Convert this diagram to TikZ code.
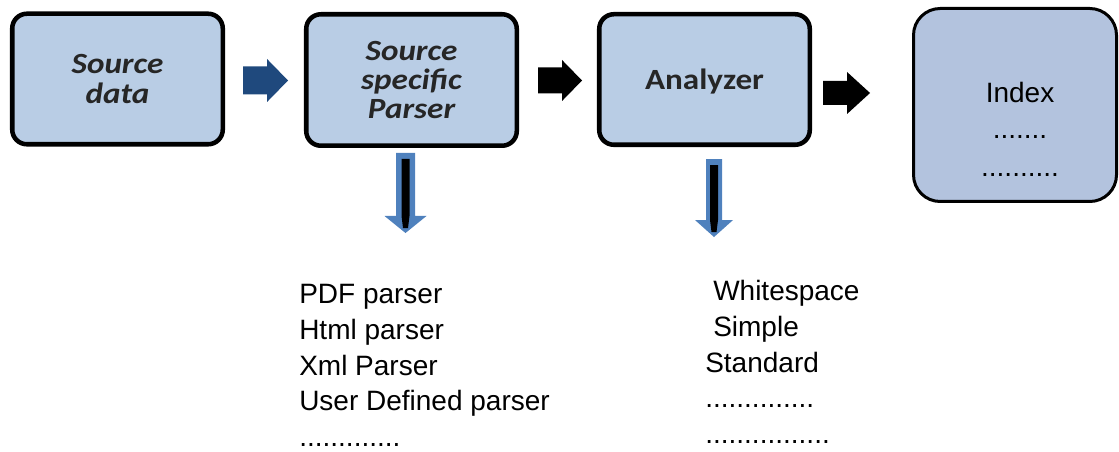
\documentclass[tikz,border=0pt]{standalone}
\usepackage{fontspec}
\usetikzlibrary{calc}
\newfontfamily\boxfont[FakeStretch=1.13]{Carlito}
\newfontfamily\listfont{Liberation Sans}
\definecolor{boxfill}{HTML}{B9CDE5}
\definecolor{idxfill}{HTML}{B3C3DE}
\definecolor{darkblue}{HTML}{1F497D}
\definecolor{midblue}{HTML}{4F81BD}
\definecolor{boxtext}{HTML}{262626}
% right-pointing block arrow: #1 start (centre of tail), #2 length, #3 head length, #4 shaft half, #5 head half, #6 fill
\newcommand\rblock[6]{\fill[#6] (#1) ++(0,{-#4}) -- ++({#2-#3},0) -- ++(0,{-(#5-#4)}) -- ++(#3,#5) -- ++({-#3},#5) -- ++(0,{-(#5-#4)}) -- ++({-(#2-#3)},0) -- cycle;}
% downward block arrow: #1 top centre, #2 length, #3 head length, #4 shaft half, #5 head half
\newcommand\dblock[5]{\fill[midblue] (#1) ++({-#4},0) -- ++(0,{#2-#3}) -- ++({-(#5-#4)},0) -- ++(#5,#3) -- ++(#5,{-#3}) -- ++({-(#5-#4)},0) -- ++(0,{-(#2-#3)}) -- cycle;
\fill[black] (#1) ++(-4,6) -- ++(8,0) -- ++(0,{#2-#3-6}) -- ++(-1.5,{#3-5}) -- ++(-5,0) -- ++(-1.5,{-(#3-5)}) -- cycle;}
\begin{document}
\begin{tikzpicture}[x=0.75pt,y=-0.75pt,
  box/.style={draw=black, line width=3.4pt, fill=boxfill, rounded corners=11pt,
    inner sep=0pt, align=center, text=boxtext,
    font=\boxfont\fontsize{22}{22}\bfseries\itshape\selectfont},
  idxbox/.style={draw=black, line width=2.25pt, fill=idxfill, rounded corners=20pt, inner sep=0pt},
  listtext/.style={inner sep=0pt, text=black, font=\listfont\fontsize{21}{26.8}\selectfont}]
\useasboundingbox (0,0) rectangle (1119,452);
\node[box, minimum width=157.9pt, minimum height=97.9pt] (src) at (117.5,79) {Source\\data};
\node[box, minimum width=157.9pt, minimum height=98.6pt] (par) at (411.5,80) {Source\\specific\\Parser};
\node[box, font=\boxfont\fontsize{22}{22}\bfseries\upshape\selectfont, text depth=0pt,
  minimum width=157.9pt, minimum height=97.9pt] (ana) at (704.5,79.5) {Analyzer};
\node[idxbox, minimum width=152.25pt, minimum height=144.75pt] (idx) at (1015,105) {};
\node[listtext, align=center, anchor=north] (idxt) at ($(idx.center)+(5,-23)$) {Index\\.......\\[2pt]..........};
\node[listtext, align=left, anchor=north west] (plist) at (299,284)
  {PDF parser\\Html parser\\Xml Parser\\User Defined parser\\.............};
\node[listtext, align=left, anchor=north west] (alist) at (705,280)
  {\hspace*{6pt}Whitespace\\\hspace*{6pt}Simple\\Standard\\..............\\................};
\coordinate (a1) at ($(src.east)+(18,1.5)$);
\rblock{a1}{45}{21}{14}{21.5}{darkblue}
\coordinate (a2) at ($(par.east)+(19,0.5)$);
\rblock{a2}{44}{20}{13}{20.5}{black}
\coordinate (a3) at ($(ana.east)+(11,13.5)$);
\rblock{a3}{47}{23}{12}{21}{black}
\coordinate (d1) at ($(par.south)+(-6,5)$);
\dblock{d1}{80}{17}{9.5}{21}
\coordinate (d2) at ($(ana.south)+(9.5,12)$);
\dblock{d2}{78}{17}{8}{19}
\end{tikzpicture}
\end{document}
